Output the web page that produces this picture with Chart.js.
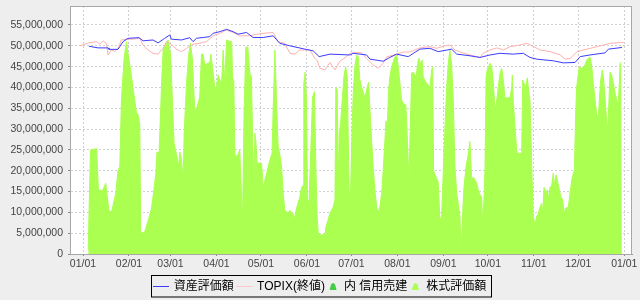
<!DOCTYPE html>
<html><head><meta charset="utf-8">
<script src="https://cdn.jsdelivr.net/npm/chart.js@4.4.0/dist/chart.umd.min.js"></script>
<style>html,body{margin:0;padding:0;background:#eeeeee}canvas{display:block}</style>
</head><body>
<canvas id="c" width="640" height="300" style="width:640px;height:300px"></canvas>
<script>
// ---- data ----
const seriesLabels = ['資産評価額', 'TOPIX(終値)', '内 信用売建', '株式評価額'];
const monthTickDays = [0, 31, 59, 90, 120, 151, 181, 212, 243, 273, 304, 334, 365];
const monthTickLabels = ['01/01','02/01','03/01','04/01','05/01','06/01','07/01','08/01','09/01','10/01','11/01','12/01','01/01'];
const yTickValues = [0, 5000000, 10000000, 15000000, 20000000, 25000000, 30000000, 35000000, 40000000, 45000000, 50000000, 55000000];
const yMax = 59560000;
const unit = 1000000; // values below are in millions of yen; x = day of year

const assetSeries = [[4.0,49.9],[10.1,49.5],[16.9,49.5],[17.5,49.15],[23.6,49.15],[24.8,49.8],[27.0,51],[30.4,51.8],[37.8,51.95],[40.5,51.2],[47.2,51.4],[50.6,50.7],[55.1,51.8],[58.5,52.6],[59.6,51.6],[66.4,51.4],[72.0,51.95],[74.2,51],[76.5,51.8],[81.0,52],[85.5,52.2],[87.7,53],[92.2,53.4],[96.8,53.95],[101.2,53.4],[104.6,52.8],[110.3,53.2],[114.7,52],[121.5,52],[128.2,52.4],[132.7,50.6],[139.5,50],[149.6,49.2],[155.2,48.8],[159.2,47.4],[166.5,48],[180.0,47.8],[182.2,48.2],[191.2,47.8],[193.5,46.8],[202.4,46.3],[206.9,47.2],[211.5,48],[219.3,47.4],[227.2,49.2],[233.9,49.4],[239.5,48.6],[248.6,49.2],[252.0,48],[261.0,47.6],[267.7,47.2],[274.5,47.8],[281.2,48.2],[290.1,48],[296.9,48.2],[301.4,47.2],[305.9,46.8],[317.1,46.4],[323.9,45.9],[331.8,46],[335.2,47.4],[341.9,47.8],[352.0,48.3],[354.3,49.2],[363.4,49.6]];

const topixSeries = [[-2.2,49.95],[3.4,50.7],[9.0,51],[11.3,50.4],[13.5,51.2],[15.8,50.6],[16.9,47.8],[19.2,49],[21.4,48.6],[23.6,49.4],[25.9,51.4],[29.3,51.6],[33.7,51.6],[38.3,51.8],[40.5,50.2],[43.9,49],[47.2,48.2],[50.6,48],[54.0,49.4],[56.3,51],[58.5,50.6],[63.0,49.2],[66.4,48.6],[69.8,49.4],[74.2,50.4],[78.7,50.6],[83.3,51],[87.7,52.4],[92.2,53],[96.8,53.8],[101.2,53.2],[105.7,52.4],[112.5,52.4],[114.7,52.6],[121.5,53],[128.2,53.2],[131.6,51],[136.1,50.6],[139.5,48.2],[142.9,48],[146.2,49],[153.0,49],[156.3,47],[157.9,46.5],[159.7,44.6],[163.1,44.2],[166.5,46],[169.9,44.2],[173.2,46.3],[177.7,47.4],[180.0,48.2],[184.5,48.4],[187.9,48.3],[191.2,47],[195.7,45.4],[199.1,44.6],[202.4,45.8],[204.7,47.3],[211.5,48],[215.9,48.5],[220.4,48.5],[227.2,49.5],[233.9,49.8],[238.4,49.4],[245.2,50.1],[247.4,50.2],[250.8,49],[255.3,48.4],[261.0,47.8],[267.7,47.2],[269.9,48.2],[274.5,49],[279.0,49.5],[283.5,49],[288.0,49.8],[294.8,50.2],[299.3,50.6],[303.8,49.8],[308.3,49],[315.0,48.6],[321.8,47.8],[325.2,46.8],[328.6,47],[333.1,48.6],[337.6,49],[342.1,49.4],[348.9,50],[355.6,50.6],[362.4,50.8],[364.6,50.8]];

const marginShortSeries = [];

const stockSeries = [[3.5,1],[5.0,25],[9.2,25.3],[10.4,15.4],[11.3,15.3],[13.3,15.3],[15.3,17],[17.5,10.5],[19.2,10],[22.1,14.6],[23.6,20],[24.8,21],[25.9,37],[27.7,47],[29.3,51],[30.4,48],[32.2,44],[33.7,40],[36.0,34],[37.1,33.5],[38.3,31],[38.9,5],[41.6,5.3],[43.9,8],[46.2,11],[47.2,13.7],[49.1,19.4],[49.9,24.5],[51.3,24.3],[52.9,40],[54.0,49],[57.4,51.4],[59.0,48],[60.3,37],[61.4,26.6],[63.0,24],[64.6,21],[65.2,24.5],[66.4,23],[67.5,17],[68.2,29],[69.8,41],[71.3,48],[72.5,50.6],[73.8,46.6],[75.4,34],[76.9,35.3],[78.7,37.7],[79.9,48],[81.0,48],[82.1,45.4],[84.3,45.8],[85.5,46],[86.2,48],[87.3,45],[88.9,40],[90.0,40],[91.1,43],[92.2,42],[93.4,40.5],[94.5,49],[95.6,41],[96.8,51.4],[99.0,51],[100.3,51],[100.8,42.5],[101.7,41.3],[102.4,24],[103.0,23.3],[104.6,24],[105.7,25],[106.4,18.5],[107.6,7.7],[108.6,33.8],[109.8,49.7],[111.1,49.7],[112.5,43.4],[113.6,42.5],[114.3,29],[115.2,17.8],[115.9,29],[116.5,27.4],[117.4,21.8],[120.4,21.8],[121.5,16],[123.8,19.4],[126.0,22.6],[127.5,24.2],[128.2,34.6],[129.4,49],[130.5,37],[131.6,25.7],[132.7,24],[133.9,21],[135.0,14.6],[136.1,10.5],[138.3,9.8],[139.5,10.5],[140.6,9.8],[141.7,9.8],[142.4,8.2],[144.0,11],[146.2,13.7],[147.4,16],[148.5,16.5],[148.9,41],[149.8,43.7],[150.7,37],[151.4,12.2],[152.5,13],[153.6,25],[154.8,37.7],[156.1,39],[157.0,21],[157.9,9],[158.6,5],[159.7,4.6],[163.1,4.6],[163.8,6.5],[165.3,8.2],[166.5,9.8],[168.7,11.3],[169.9,13],[170.5,40],[171.4,39.4],[172.1,16],[172.8,29],[173.7,31.4],[174.8,37],[175.9,42.5],[177.1,45],[178.2,42.5],[178.8,29],[179.5,14.6],[180.4,14.6],[181.3,27.4],[182.2,38.6],[183.3,45],[184.5,47.8],[185.6,47.3],[186.7,41.8],[187.9,40],[188.9,39],[190.1,37.5],[191.6,40],[192.6,41.3],[193.5,34.6],[194.6,27.4],[195.7,21],[196.8,15.4],[198.0,11.3],[199.1,10],[200.2,11.3],[201.4,14.6],[202.4,20],[203.6,27.4],[204.3,32],[205.1,30],[206.1,39.4],[206.9,42.5],[208.1,45],[210.3,47.3],[211.5,47.8],[212.6,45],[213.7,41],[214.8,37],[215.9,36.2],[217.7,35.8],[218.6,29],[219.8,17],[220.4,26.6],[221.6,43.4],[222.7,43.7],[224.5,42.5],[226.1,46.6],[226.7,47],[227.7,45.4],[228.7,46.6],[229.4,42.5],[231.2,41.3],[232.8,40.6],[233.9,39.8],[235.1,44.2],[235.8,45],[236.4,20],[238.0,18.5],[239.5,17.3],[240.7,8.2],[241.8,9],[242.9,19.4],[244.1,30.5],[245.2,40],[246.3,45.8],[247.4,49],[248.6,45.4],[249.7,37],[250.8,21],[252.0,14.6],[253.0,12.2],[254.2,9],[254.9,0.2],[256.0,9.8],[256.9,16],[258.3,21],[259.8,24],[260.9,27],[262.1,17.8],[263.2,18.5],[264.3,17.8],[265.5,17],[266.5,15.4],[267.7,14.2],[268.8,13.7],[269.5,7.4],[270.4,13],[271.1,21],[271.8,42.5],[272.6,44.2],[274.4,45.8],[275.6,45],[276.7,41],[277.8,34.6],[279.0,37],[280.0,40],[281.2,43.4],[282.3,44.6],[283.4,41.8],[284.5,37.5],[287.9,37.5],[289.1,40],[289.5,43],[290.1,37],[291.3,30.5],[292.4,25],[293.1,24.2],[295.8,24.2],[296.5,41.8],[297.4,41],[298.5,40],[299.6,42.3],[300.7,38.6],[301.4,37],[302.6,21],[303.6,9],[304.8,7],[305.9,9],[307.0,9.8],[308.2,11.3],[309.3,12.2],[310.0,9.8],[310.9,16],[312.2,14.6],[313.1,15.4],[313.8,13],[314.9,16],[316.1,16.5],[317.1,19.4],[317.8,16.5],[319.0,19],[319.8,17.8],[321.2,15.4],[322.3,13.7],[323.5,13],[324.4,9.8],[325.5,11],[327.3,11.3],[328.4,14.6],[329.6,17.8],[330.6,19.4],[331.3,20],[332.3,34.6],[332.9,40],[334.0,43.4],[334.7,45],[336.3,44.6],[337.4,45],[338.5,45.4],[339.7,46.6],[340.8,47],[341.9,47.3],[343.1,45],[344.1,41],[345.3,37],[346.4,33.4],[347.5,33],[348.2,37],[349.1,41.8],[350.2,44.2],[350.9,42.5],[352.0,37.7],[353.2,31.4],[353.8,30.3],[354.7,37],[355.4,43.7],[356.5,43],[357.6,41],[358.8,38.6],[359.9,37],[360.8,35.3],[361.5,40],[362.2,45.8],[362.9,46],[363.4,46]];

// ---- chart ----
const toPoints = s => s.map(([d, v]) => ({ x: d, y: v * unit }));
const FONT = "'Liberation Sans', Arial, sans-serif";

const bgPlugin = {
  id: 'bg',
  beforeDraw(chart) {
    const { ctx, chartArea: a } = chart;
    ctx.save();
    ctx.fillStyle = '#eeeeee';
    ctx.fillRect(0, 0, chart.width, chart.height);
    ctx.fillStyle = '#ffffff';
    ctx.fillRect(a.left, a.top, a.right - a.left, a.bottom - a.top);
    ctx.restore();
  },
  afterDraw(chart) {
    const { ctx, chartArea: a } = chart;
    ctx.save();
    ctx.strokeStyle = '#a8a8a8';
    ctx.lineWidth = 1;
    ctx.strokeRect(Math.round(a.left) + 0.5, Math.round(a.top) + 0.5, Math.round(a.right - a.left) - 1, Math.round(a.bottom - a.top));
    ctx.restore();
  }
};

const legendPlugin = {
  id: 'boxLegend',
  afterDraw(chart) {
    const ctx = chart.ctx;
    ctx.save();
    ctx.font = "12px 'Liberation Sans', 'Noto Sans CJK JP', sans-serif";
    const items = chart.data.datasets.map(ds => ({ text: ds.label, type: ds.legendType, color: ds.legendColor }));
    const widths = items.map(it => (it.type === 'line' ? 20.7 : 16.3) + ctx.measureText(it.text).width + 2.7);
    const total = widths.reduce((a, b) => a + b, 0) + 4;
    const left = Math.round(320.8 - total / 2) + 0.5;
    const top = 275.5, h = 21.5, cy = 286.5;
    ctx.strokeStyle = '#000';
    ctx.lineWidth = 1;
    ctx.strokeRect(left, top, Math.round(total), h);
    let x = left + 1.5;
    ctx.textBaseline = 'middle';
    items.forEach((it, i) => {
      if (it.type === 'line') {
        ctx.strokeStyle = it.color;
        ctx.beginPath();
        ctx.moveTo(x, cy); ctx.lineTo(x + 16, cy);
        ctx.stroke();
        ctx.fillStyle = '#000';
        ctx.fillText(it.text, x + 20.7, cy + 0.5);
      } else {
        const cx = x + 5.5;
        ctx.fillStyle = it.color;
        ctx.beginPath();
        ctx.moveTo(cx - 3.5, cy + 3.5);
        ctx.lineTo(cx - 2, cy - 2);
        ctx.quadraticCurveTo(cx, cy - 5, cx + 2, cy - 2);
        ctx.lineTo(cx + 3.5, cy + 3.5);
        ctx.closePath();
        ctx.fill();
        ctx.fillStyle = '#000';
        ctx.fillText(it.text, x + 16.3, cy + 0.5);
      }
      x += widths[i];
    });
    ctx.restore();
  }
};

new Chart(document.getElementById('c'), {
  type: 'line',
  data: {
    datasets: [
      { label: seriesLabels[0], data: toPoints(assetSeries), borderColor: '#3c3cff', borderWidth: 1, pointRadius: 0, fill: false, tension: 0, legendType: 'line', legendColor: '#3c3cff' },
      { label: seriesLabels[1], data: toPoints(topixSeries), borderColor: '#ffb0b0', borderWidth: 1, pointRadius: 0, fill: false, tension: 0, legendType: 'line', legendColor: '#ffc8c8' },
      { label: seriesLabels[2], data: toPoints(marginShortSeries), borderColor: '#44cc44', backgroundColor: '#44cc44', borderWidth: 1, pointRadius: 0, fill: 'origin', legendType: 'area', legendColor: '#44cc44' },
      { label: seriesLabels[3], data: toPoints(stockSeries), borderColor: '#aaff50', backgroundColor: '#aaff50', borderWidth: 1, pointRadius: 0, fill: 'origin', tension: 0, legendType: 'area', legendColor: '#aaff50' }
    ]
  },
  options: {
    responsive: false,
    devicePixelRatio: 1,
    animation: false,
    events: [],
    layout: { padding: { left: 0, right: 8, top: 6, bottom: 0 } },
    plugins: { legend: { display: false }, tooltip: { enabled: false } },
    scales: {
      x: {
        type: 'linear',
        min: -8.77,
        max: 370.2,
        afterBuildTicks: s => { s.ticks = monthTickDays.map(v => ({ value: v })); },
        afterFit: s => { s.height = 46; s.paddingLeft = 0; s.paddingRight = 0; },
        ticks: {
          autoSkip: false, maxRotation: 0, minRotation: 0, padding: 2,
          color: '#444', font: { family: FONT, size: 10.5 },
          callback: (v, i) => monthTickLabels[i]
        },
        grid: { color: '#d0d0d0', tickColor: '#888', tickLength: 2, tickBorderDash: [], drawTicks: true },
        border: { display: true, color: '#999', dash: [2, 2] }
      },
      y: {
        type: 'linear',
        min: 0,
        max: yMax,
        afterBuildTicks: s => { s.ticks = yTickValues.map(v => ({ value: v })); },
        afterFit: s => { s.width = 70; s.paddingTop = 0; s.paddingBottom = 0; },
        ticks: {
          autoSkip: false, padding: 5,
          color: '#444', font: { family: FONT, size: 10.5 },
          callback: v => v.toLocaleString('en-US')
        },
        grid: { color: '#d0d0d0', tickColor: '#888', tickLength: 2, tickBorderDash: [], drawTicks: true },
        border: { display: true, color: '#999', dash: [2, 2] }
      }
    }
  },
  plugins: [bgPlugin, legendPlugin]
});
</script>
</body></html>
